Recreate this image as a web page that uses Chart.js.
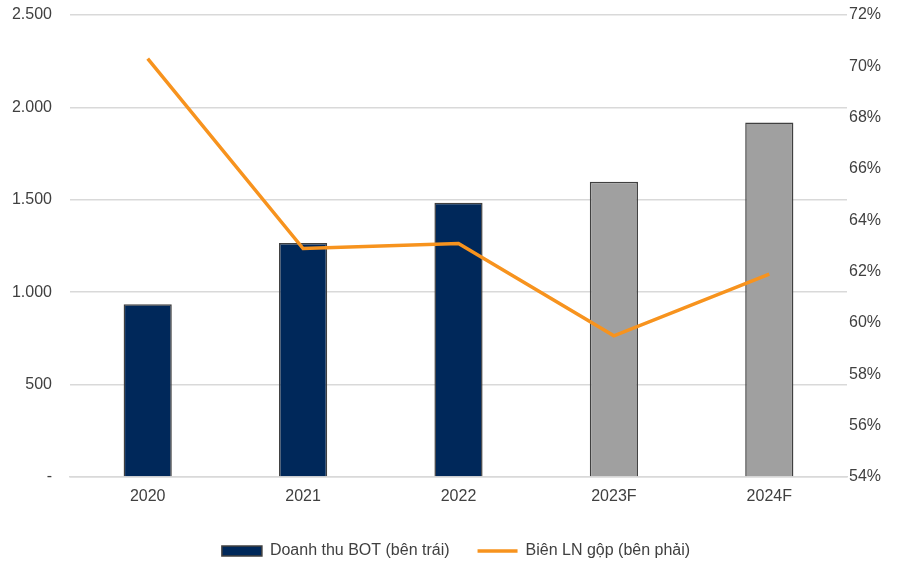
<!DOCTYPE html>
<html>
<head>
<meta charset="utf-8">
<script src="https://cdn.jsdelivr.net/npm/chart.js@4.4.0/dist/chart.umd.min.js"></script>
<style>
  html, body { margin: 0; padding: 0; background: #fff; }
  #wrap { width: 912px; height: 565px; }
</style>
</head>
<body>
<div id="wrap"><canvas id="c" width="912" height="565"></canvas></div>
<script>
const years = ['2020', '2021', '2022', '2023F', '2024F'];
const revenue = [935, 1266, 1484, 1598, 1918];
const margin = [70.3, 62.9, 63.1, 59.5, 61.9];
const leftTicks = [0, 500, 1000, 1500, 2000, 2500];
const rightTicks = [54, 56, 58, 60, 62, 64, 66, 68, 70, 72];

const navy = '#00285A';
const grey = '#A0A0A0';
const orange = '#F7931E';
const txt = '#404040';
const font = { family: '"Liberation Sans", Arial, sans-serif', size: 16 };

const barColors = years.map(y => y.endsWith('F') ? grey : navy);

const fmt = v => v === 0 ? '-' : v.toLocaleString('de-DE');

// keep the plot area fixed: no extra room for half tick labels
function fitY(width) {
  return s => { s.width = width; s.paddingTop = 0; s.paddingBottom = 0; };
}

new Chart(document.getElementById('c'), {
  data: {
    labels: years,
    datasets: [
      {
        type: 'line',
        label: 'Biên LN gộp (bên phải)',
        data: margin,
        yAxisID: 'y2',
        borderColor: orange,
        backgroundColor: orange,
        borderWidth: 3.5,
        pointRadius: 0,
        tension: 0,
        pointStyle: 'line',
        order: 0
      },
      {
        type: 'bar',
        label: 'Doanh thu BOT (bên trái)',
        data: revenue,
        yAxisID: 'y',
        backgroundColor: barColors,
        borderColor: '#404040',
        borderWidth: 1.5,
        borderSkipped: 'bottom',
        barPercentage: 0.62,
        categoryPercentage: 0.5,
        pointStyle: 'rect',
        order: 1
      }
    ]
  },
  options: {
    responsive: false,
    animation: false,
    layout: { padding: { top: 15, left: 0, right: 0, bottom: -4 } },
    plugins: {
      tooltip: { enabled: false },
      legend: {
        position: 'bottom',
        reverse: true,
        labels: {
          color: txt,
          font: font,
          usePointStyle: true,
          pointStyleWidth: 40,
          boxHeight: 10,
          padding: 28
        }
      }
    },
    scales: {
      x: {
        grid: { display: false, drawTicks: false },
        border: { display: true, color: '#d9d9d9', width: 1.5 },
        ticks: { color: txt, font: font, padding: 10 },
        afterFit: s => { s.height = 38; s.paddingLeft = 0; s.paddingRight = 0; }
      },
      y: {
        position: 'left',
        min: 0, max: 2500,
        afterBuildTicks: s => { s.ticks = leftTicks.map(v => ({ value: v })); },
        grid: { color: '#d9d9d9', lineWidth: 1.5, drawTicks: false },
        border: { display: false },
        ticks: { color: txt, font: font, padding: 18, callback: v => fmt(v) },
        afterFit: fitY(70)
      },
      y2: {
        position: 'right',
        min: 54, max: 72,
        afterBuildTicks: s => { s.ticks = rightTicks.map(v => ({ value: v })); },
        grid: { display: false, drawTicks: false },
        border: { display: false },
        ticks: { color: txt, font: font, padding: 2, callback: v => v + '%' },
        afterFit: fitY(65)
      }
    }
  }
});
</script>
</body>
</html>
